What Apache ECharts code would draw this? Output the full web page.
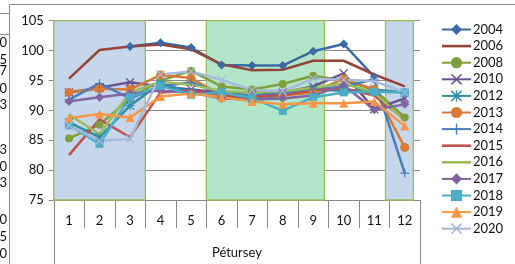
<!DOCTYPE html>
<html>
<head>
<meta charset="utf-8">
<script src="https://cdn.jsdelivr.net/npm/echarts@6/dist/echarts.min.js"></script>
<style>
html,body{margin:0;padding:0;background:#fff;}
#c{width:515px;height:264px;}
</style>
</head>
<body>
<div id="c"></div>
<script>
const categories = ['1','2','3','4','5','6','7','8','9','10','11','12'];
const yTicks = [75, 80, 85, 90, 95, 100, 105];
const axisName = 'Pétursey';

const v2004 = [null, null, 100.7, 101.3, 100.5, 97.6, 97.5, 97.5, 99.9, 101.1, 95.6, null];
const v2006 = [95.3, 100.1, 100.7, 101.0, 100.2, 97.7, 96.7, 96.8, 98.3, 98.3, 96.0, 94.0];
const v2008 = [85.3, 87.6, 92.0, 95.0, 96.6, 94.0, 93.5, 94.4, 95.8, 95.0, 93.5, 88.8];
const v2010 = [93.0, 93.8, 94.7, 94.0, 93.5, 93.0, 92.5, 93.0, 94.0, 96.2, 90.2, 92.0];
const v2012 = [88.0, 85.5, 90.8, 94.5, 93.0, 92.5, 92.0, 92.5, 93.5, 93.3, 93.5, 93.0];
const v2013 = [93.0, 93.6, 93.5, 95.9, 95.4, 92.5, 92.3, 92.5, 93.0, 95.3, 93.5, 83.8];
const v2014 = [91.8, 94.5, 92.0, 94.0, 94.7, 92.8, 92.5, 92.8, 93.5, 94.0, 95.2, 79.5];
const v2015 = [82.5, 88.5, 85.5, 93.0, 93.3, 92.5, 92.3, 92.5, 93.3, 93.7, 92.5, 88.5];
const v2016 = [89.3, 86.0, 93.0, 94.8, 94.3, 93.2, 93.0, 93.2, 93.8, 94.5, 93.0, 88.3];
const v2017 = [91.5, 92.2, 92.8, 93.3, 93.0, 92.0, 91.8, 92.0, 92.5, 94.2, 90.1, 91.0];
const v2018 = [87.5, 84.4, 92.2, 94.1, 92.6, 93.0, 92.1, 89.9, 92.2, 93.0, 93.1, 93.0];
const v2019 = [88.7, 89.4, 88.8, 92.3, 92.8, 92.2, 91.5, 91.0, 91.2, 91.2, 91.5, 87.4];
const v2020 = [87.5, 84.9, 85.2, 96.0, 96.5, 95.1, 93.4, 93.2, 95.3, 95.1, 94.9, 93.0];

// shaded periods on a continuous month scale
const blueA = [0.5, 3.5];
const greenA = [5.5, 9.37];
const blueB = [11.37, 12.28];
const shadeMin = 75, shadeMax = 105.5;

const X_PATH = 'path://M0,1L1,0L5,4L9,0L10,1L6,5L10,9L9,10L5,6L1,10L0,9L4,5Z';
const PLUS_PATH = 'path://M4.4,0H5.6V4.4H10V5.6H5.6V10H4.4V5.6H0V4.4H4.4Z';
const STAR_PATH = 'path://M0,1L1,0L5,4L9,0L10,1L6,5L10,9L9,10L5,6L1,10L0,9L4,5Z M4.4,0H5.6V10H4.4Z M0,4.4H10V5.6H0Z';
const LINE_ICON = 'path://M0,0H29V2.6H0Z';

const seriesDefs = [
  {name:'2004', data:v2004, color:'#3b69a3', symbol:'diamond', size:9},
  {name:'2006', data:v2006, color:'#944539', symbol:'none', size:0},
  {name:'2008', data:v2008, color:'#7f9f3f', symbol:'circle', size:8},
  {name:'2010', data:v2010, color:'#6a5391', symbol:X_PATH, size:9},
  {name:'2012', data:v2012, color:'#2e8ea8', symbol:STAR_PATH, size:9},
  {name:'2013', data:v2013, color:'#d67a35', symbol:'circle', size:9},
  {name:'2014', data:v2014, color:'#4a7ebb', symbol:PLUS_PATH, size:9},
  {name:'2015', data:v2015, color:'#c0504d', symbol:'none', size:0},
  {name:'2016', data:v2016, color:'#9bbb59', symbol:'none', size:0},
  {name:'2017', data:v2017, color:'#8064a2', symbol:'diamond', size:9},
  {name:'2018', data:v2018, color:'#4bacc6', symbol:'rect', size:8},
  {name:'2019', data:v2019, color:'#f79646', symbol:'triangle', size:9},
  {name:'2020', data:v2020, color:'#a7badb', symbol:X_PATH, size:9}
];

const FONT = 'Lato';
const chart = echarts.init(document.getElementById('c'), null, {renderer:'canvas'});

const series = seriesDefs.map(d => ({
  name: d.name,
  type: 'line',
  data: d.data,
  xAxisIndex: 0,
  yAxisIndex: 0,
  symbol: d.symbol,
  symbolSize: d.size,
  showSymbol: d.symbol !== 'none',
  connectNulls: false,
  lineStyle: {color: d.color, width: 2.5},
  itemStyle: {color: d.color, borderWidth: 0},
  emphasis: {disabled: true},
  animation: false,
  z: 3
}));

series.unshift({
  name: 'shade',
  type: 'line',
  xAxisIndex: 1,
  yAxisIndex: 0,
  data: [],
  clip: false,
  z: -1,
  silent: true,
  animation: false,
  markArea: {
    silent: true,
    label: {show: false},
    data: [
      [{xAxis: blueA[0], yAxis: shadeMin, itemStyle:{color:'#c6d6eb', borderColor:'#9bbb59', borderWidth:1.3}}, {xAxis: blueA[1], yAxis: shadeMax}],
      [{xAxis: greenA[0], yAxis: shadeMin, itemStyle:{color:'#b3e6c8', borderColor:'#9bbb59', borderWidth:1.3}}, {xAxis: greenA[1], yAxis: shadeMax}],
      [{xAxis: blueB[0], yAxis: shadeMin, itemStyle:{color:'#c6d6eb', borderColor:'#9bbb59', borderWidth:1.3}}, {xAxis: blueB[1], yAxis: shadeMax}]
    ]
  }
});

const legendData = seriesDefs.map(d => d.symbol === 'none'
  ? {name: d.name, icon: LINE_ICON, itemStyle: {color: d.color}}
  : {name: d.name});

const option = {
  backgroundColor: '#ffffff',
  animation: false,
  textStyle: {fontFamily: FONT},
  grid: {left: 53.75, right: 95, top: 20.7, bottom: 53, containLabel: false},
  legend: {
    data: legendData,
    orient: 'vertical',
    left: 436,
    top: 18,
    itemWidth: 29,
    itemHeight: 14,
    itemGap: 3.6,
    selectedMode: false,
    textStyle: {fontFamily: FONT, fontSize: 13, color: '#111', padding: [0,0,0,-3]}
  },
  xAxis: [
    {
      type: 'category',
      data: categories,
      boundaryGap: true,
      position: 'bottom',
      name: axisName,
      nameLocation: 'middle',
      nameGap: 46,
      nameTextStyle: {fontFamily: FONT, fontSize: 13, color: '#111'},
      axisLine: {show: true, lineStyle: {color: '#868686', width: 1}},
      axisTick: {show: true, interval: 0, length: 28, lineStyle: {color: '#868686', width: 1}},
      axisLabel: {interval: 0, margin: 14, fontFamily: FONT, fontSize: 13, color: '#111'},
      splitLine: {show: false}
    },
    {
      type: 'value',
      min: 0.5,
      max: 12.5,
      show: false,
      splitLine: {show: false}
    }
  ],
  yAxis: {
    type: 'value',
    min: yTicks[0],
    max: yTicks[yTicks.length - 1],
    interval: 5,
    axisLine: {show: true, lineStyle: {color: '#868686', width: 1}},
    axisTick: {show: true, length: 5, lineStyle: {color: '#868686', width: 1}},
    axisLabel: {margin: 10, fontFamily: FONT, fontSize: 13, color: '#111'},
    splitLine: {show: true, lineStyle: {color: '#8c8c8c', width: 1}}
  },
  series: series
};

chart.setOption(option);

// frame lines and group borders of the category axis
const xl = chart.convertToPixel({xAxisIndex: 1}, 0.5);
const xr = chart.convertToPixel({xAxisIndex: 1}, 12.5);
const yb = chart.convertToPixel({yAxisIndex: 0}, yTicks[0]);
const edgeTexts = [
  {t:'0', y:43}, {t:'5', y:60}, {t:'7', y:71}, {t:'0', y:89}, {t:'3', y:105},
  {t:'3', y:150}, {t:'0', y:167}, {t:'3', y:183}, {t:'0', y:220}, {t:'5', y:237}, {t:'0', y:254}
];
const graphics = [
  {type:'line', shape:{x1:Math.round(xl)+0.5, y1:yb, x2:Math.round(xl)+0.5, y2:264}, style:{stroke:'#868686', lineWidth:1}, silent:true},
  {type:'line', shape:{x1:Math.round(xr)+0.5, y1:yb, x2:Math.round(xr)+0.5, y2:264}, style:{stroke:'#868686', lineWidth:1}, silent:true},
  {type:'line', shape:{x1:9.5, y1:4.5, x2:515, y2:4.5}, style:{stroke:'#8c8c8c', lineWidth:1}, silent:true},
  {type:'line', shape:{x1:9.5, y1:4.5, x2:9.5, y2:264}, style:{stroke:'#8c8c8c', lineWidth:1}, silent:true},
  {type:'line', shape:{x1:0, y1:13.5, x2:9, y2:13.5}, style:{stroke:'#8c8c8c', lineWidth:1}, silent:true},
  {type:'line', shape:{x1:0, y1:34.5, x2:9, y2:34.5}, style:{stroke:'#8c8c8c', lineWidth:1}, silent:true}
];
edgeTexts.forEach(e => graphics.push({
  type:'text', x:7, y:e.y, silent:true,
  style:{text:e.t, fontFamily:FONT, fontSize:13, fill:'#111', align:'right', verticalAlign:'middle'}
}));
chart.setOption({graphic: graphics});
</script>
</body>
</html>
